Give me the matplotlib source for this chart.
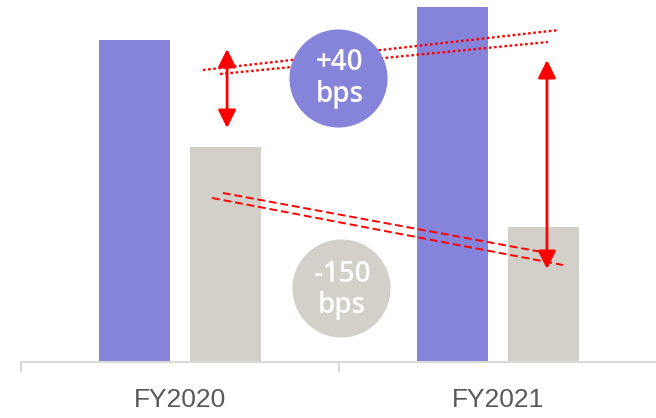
import numpy as np
import matplotlib
matplotlib.use('Agg')
from matplotlib import pyplot as plt

# data
categories = ['FY2020', 'FY2021']
purple_vals = [32.2, 35.5]
gray_vals = [21.5, 13.5]
up_label = ['+40', 'bps']
down_label = ['-150', 'bps']

purple = '#8583DA'
grey = '#D3D0C9'
red = '#FF0000'

fig = plt.figure(figsize=(6.56, 4.18), dpi=100)
ax = fig.add_axes([21 / 656, (418 - 362) / 418, 636 / 656, 362 / 418])

x = np.arange(len(categories))
w = 0.223
off = 0.142
ax.bar(x - off, purple_vals, w, color=purple, zorder=2)
ax.bar(x + off, gray_vals, w, color=grey, zorder=2)

ax.set_xlim(-0.5, 1.5)
ax.set_ylim(0, 36.2)

for s in ['top', 'right', 'left']:
    ax.spines[s].set_visible(False)
ax.spines['bottom'].set_color('#d9d9d9')
ax.spines['bottom'].set_linewidth(1.5)
ax.set_yticks([])

# category boundary ticks + labels in the middle
ax.set_xticks([-0.5, 0.5, 1.5])
ax.set_xticklabels([])
ax.tick_params(axis='x', which='major', length=7.2, width=1.5, color='#d9d9d9')
ax.set_xticks(x, minor=True)
ax.set_xticklabels(categories, minor=True, fontsize=19, color='#595959',
                   family='Liberation Sans')
ax.tick_params(axis='x', which='minor', length=0, pad=19)

# red guide lines
ax.plot([0.072, 1.192], [29.2, 33.2], color=red, lw=1.7, ls=(0, (1.1, 1.1)), zorder=3)
ax.plot([0.126, 1.157], [28.8, 32.0], color=red, lw=1.7, ls=(0, (1.1, 1.1)), zorder=3)
ax.plot([0.135, 1.154], [16.9, 10.9], color=red, lw=1.4, ls=(0, (4, 2)), zorder=3)
ax.plot([0.101, 1.204], [16.4, 9.7], color=red, lw=1.4, ls=(0, (4, 2)), zorder=3)

# double arrows
ax.annotate('', xy=(0.148, 31.3), xytext=(0.148, 23.4),
            arrowprops=dict(arrowstyle='<|-|>', color=red, lw=2, mutation_scale=27,
                            shrinkA=0, shrinkB=0), zorder=4)
ax.annotate('', xy=(1.154, 30.2), xytext=(1.154, 9.3),
            arrowprops=dict(arrowstyle='<|-|>', color=red, lw=2, mutation_scale=27,
                            shrinkA=0, shrinkB=0), zorder=4)

# bubbles
ax.scatter([0.497], [28.45], s=70.6 ** 2, color=purple, zorder=5, lw=0)
ax.scatter([0.506], [7.4], s=70.6 ** 2, color=grey, zorder=5, lw=0)

tf = dict(color='white', fontsize=20, fontweight='semibold', family='Open Sans',
          ha='center', va='baseline', zorder=6)
ax.text(0.503, 29.2, up_label[0], **tf)
ax.text(0.503, 26.0, up_label[1], **tf)
ax.text(0.509, 8.0, down_label[0], **tf)
ax.text(0.509, 4.9, down_label[1], **tf)

fig.savefig('out.png', dpi=100)
